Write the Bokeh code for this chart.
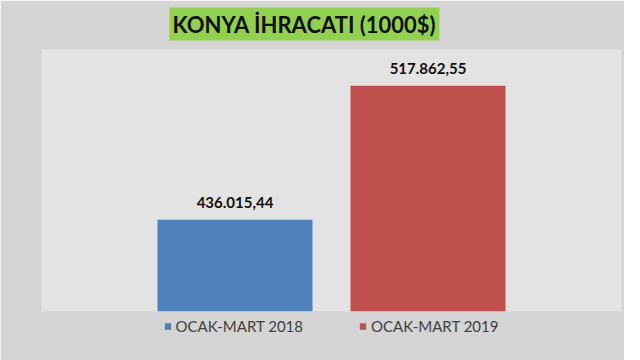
from bokeh.plotting import figure
from bokeh.models import ColumnDataSource, Range1d, Legend, LegendItem, Title
from bokeh.core.properties import value
from bokeh.embed import file_html
from bokeh.resources import INLINE

# ---- data ----
series = ["OCAK-MART 2018", "OCAK-MART 2019"]
values = [436015.44, 517862.55]
colors = ["#4f81bd", "#c0504d"]
title_text = "KONYA İHRACATI (1000$)"

def tr_fmt(v):
    s = f"{v:,.2f}"
    return s.replace(",", "X").replace(".", ",").replace("X", ".")

labels = [tr_fmt(v) for v in values]
xs = [1, 2]

src = ColumnDataSource(dict(x=xs, v=values, c=colors, s=series, lab=labels))

p = figure(frame_width=580, frame_height=262, output_backend="svg", toolbar_location=None,
           x_range=Range1d(-0.0026, 3.0026), y_range=Range1d(380000, 540000),
           x_axis_location=None, y_axis_location=None,
           min_border_left=41, min_border_right=3, min_border_top=0,
           min_border_bottom=0)
p.background_fill_color = "#e3e3e3"
p.border_fill_color = "#d3d4d3"
p.outline_line_color = "#dadada"
p.xgrid.visible = False
p.ygrid.visible = False

r = p.vbar(x="x", top="v", bottom=0, width=0.803, fill_color="c", line_color=None, source=src)

p.text(x="x", y="v", text="lab", source=src, text_align="center", text_baseline="middle",
       y_offset=-17, text_font=value("Lato"), text_font_style="bold",
       text_font_size="15px", text_color="#111111")

# title box
t = Title(text=title_text, align="left", offset=128, vertical_align="top",
          text_font="Lato", text_font_style="bold", text_font_size="22px",
          text_color="#111111", background_fill_color="#92d050",
          padding=3, standoff=14)
p.add_layout(t, "above")

legend = Legend(items=[LegendItem(label=series[i], renderers=[r], index=i) for i in range(2)],
                orientation="horizontal", location="top_center",
                label_text_font="Lato", label_text_font_size="15px", label_text_color="#404040",
                glyph_width=8, glyph_height=8, label_standoff=4, spacing=56,
                label_height=14, padding=1, margin=6, border_line_color=None,
                background_fill_alpha=0)
p.add_layout(legend, "below")

open("out.html", "w").write(file_html(p, INLINE))
